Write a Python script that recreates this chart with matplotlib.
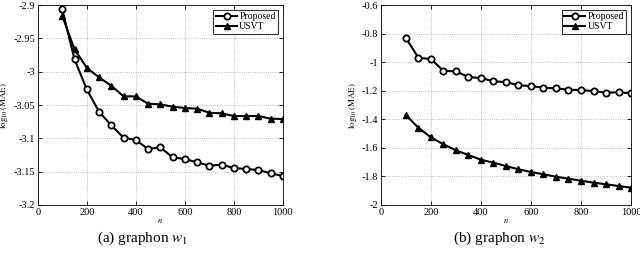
import numpy as np
import matplotlib
matplotlib.use("Agg")
import matplotlib.pyplot as plt
import matplotlib.ticker as ticker

plt.rcParams["font.family"] = ["Liberation Serif", "DejaVu Serif"]
plt.rcParams["mathtext.fontset"] = "stix"

n_vals = [100, 150, 200, 250, 300, 350, 400, 450, 500, 550,
          600, 650, 700, 750, 800, 850, 900, 950, 1000]

# graphon w1
w1_proposed = [-2.9065, -2.9815, -3.0265, -3.0600, -3.0805, -3.0990, -3.1025,
               -3.1160, -3.1135, -3.1285, -3.1310, -3.1360, -3.1410, -3.1395,
               -3.1445, -3.1460, -3.1475, -3.1525, -3.1565]
w1_usvt = [-2.9165, -2.9665, -2.9940, -3.0085, -3.0210, -3.0370, -3.0370,
           -3.0480, -3.0490, -3.0525, -3.0545, -3.0555, -3.0615, -3.0625,
           -3.0665, -3.0665, -3.0665, -3.0705, -3.0710]

# graphon w2
w2_proposed = [-0.829, -0.969, -0.978, -1.060, -1.064, -1.104, -1.111, -1.134,
               -1.139, -1.162, -1.167, -1.179, -1.183, -1.193, -1.195, -1.202,
               -1.214, -1.211, -1.218]
w2_usvt = [-1.370, -1.459, -1.526, -1.575, -1.617, -1.650, -1.683, -1.704,
           -1.727, -1.750, -1.769, -1.785, -1.802, -1.816, -1.830, -1.844,
           -1.855, -1.867, -1.879]

panels = [
    ([0.059, 0.193, 0.383, 0.787], w1_proposed, w1_usvt,
     (-3.2, -2.9), np.arange(-3.2, -2.89, 0.05), "(a) graphon $w_1$", 0.222),
    ([0.595, 0.193, 0.391, 0.787], w2_proposed, w2_usvt,
     (-2.0, -0.6), np.arange(-2.0, -0.59, 0.2), "(b) graphon $w_2$", 0.780),
]

fig = plt.figure(figsize=(6.4, 2.54), dpi=100)

for rect, prop, usvt, ylim, yticks, caption, cap_x in panels:
    ax = fig.add_axes(rect)
    ax.plot(n_vals, prop, color="black", lw=1.5, marker="o", ms=4.5,
            mfc="white", mec="black", mew=1.3, label="Proposed")
    ax.plot(n_vals, usvt, color="black", lw=1.5, marker="^", ms=5,
            mfc="black", mec="black", label="USVT")
    ax.set_xlim(0, 1000)
    ax.set_ylim(*ylim)
    ax.set_xticks(range(0, 1001, 200))
    ax.set_yticks(yticks)
    ax.yaxis.set_major_formatter(ticker.FuncFormatter(lambda v, _p: f"{round(v, 2):g}"))
    ax.tick_params(direction="in", top=True, right=True, labelsize=7.5,
                   length=3, width=0.6, pad=2)
    ax.grid(True, linestyle=":", color="#aaaaaa", linewidth=0.6)
    for s in ax.spines.values():
        s.set_linewidth(0.6)
    ax.set_xlabel("$n$", fontsize=6, labelpad=0)
    ax.set_ylabel(r"$\log_{10}(\mathrm{MAE})$", fontsize=6.5, labelpad=2)
    leg = ax.legend(loc="upper right", fontsize=7, frameon=True, fancybox=False,
                    edgecolor="black", borderpad=0.25, labelspacing=0.1,
                    handlelength=2.2, handletextpad=0.2, borderaxespad=0.5)
    leg.get_frame().set_linewidth(0.8)
    fig.text(cap_x, 0.06, caption, ha="center", va="center", fontsize=11)

plt.savefig("out.png", dpi=100)
